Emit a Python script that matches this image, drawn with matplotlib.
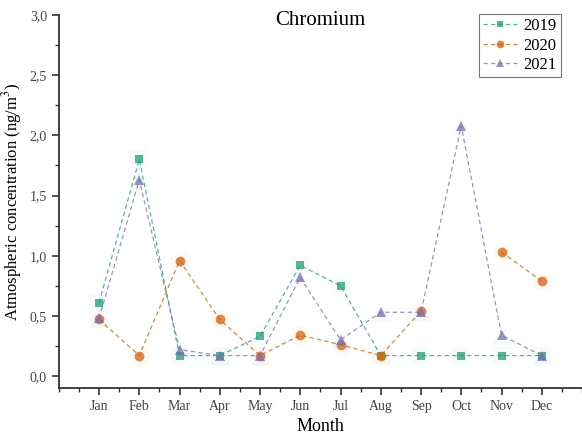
import numpy as np
import matplotlib.pyplot as plt
from matplotlib.ticker import MultipleLocator

# -----------------------------
# Data
# -----------------------------
months = ["Jan", "Feb", "Mar", "Apr", "May", "Jun",
          "Jul", "Aug", "Sep", "Oct", "Nov", "Dec"]
cr_2019 = [0.61, 1.80, 0.17, 0.17, 0.33, 0.92, 0.75, 0.17, 0.17, 0.17, 0.17, 0.17]
cr_2020 = [0.47, 0.17, 0.96, 0.47, 0.17, 0.34, 0.26, 0.17, 0.54, np.nan, 1.03, 0.79]
cr_2021 = [0.48, 1.63, 0.22, 0.17, 0.17, 0.82, 0.30, 0.53, 0.53, 2.08, 0.34, 0.17]

plt.rcParams['font.family'] = ['Liberation Serif', 'DejaVu Serif']
plt.rcParams['mathtext.fontset'] = 'stix'

fig = plt.figure(figsize=(5.82, 4.43), dpi=100)
ax = fig.add_axes([0.101, 0.124, 0.899, 0.842])

x = np.arange(1, len(months) + 1)
series = [
    ("2019", cr_2019, "#1b9e77", "s", 6),
    ("2020", cr_2020, "#d95f02", "o", 7),
    ("2021", cr_2021, "#7570b3", "^", 7),
]
for label, vals, col, mk, ms in series:
    # faint halo behind the markers
    ax.plot(x, vals, linestyle="none", marker=mk, markersize=ms + 7,
            color=col, alpha=0.03, markeredgewidth=0)
    ax.plot(x, vals, linestyle=(0, (3.5, 2.5)), linewidth=0.9, color=col,
            alpha=0.75, marker=mk, markersize=ms, markerfacecolor=col,
            markeredgewidth=0, label=label)

ax.set_xlim(0, 13)
ax.set_ylim(-0.1, 3.0)
ax.set_xticks(x)
ax.set_xticklabels(months)
ax.xaxis.set_minor_locator(MultipleLocator(0.5))
ax.yaxis.set_major_locator(MultipleLocator(0.5))
ax.yaxis.set_minor_locator(MultipleLocator(0.25))
ax.yaxis.set_major_formatter(plt.FuncFormatter(lambda v, p: f"{v:.1f}".replace(".", ",")))

ax.spines["top"].set_visible(False)
ax.spines["right"].set_visible(False)
for s in ["left", "bottom"]:
    ax.spines[s].set_linewidth(1.3)
    ax.spines[s].set_color("#333333")
ax.tick_params(which="major", direction="out", length=5, width=1.2,
               labelsize=10, colors="#333333", labelcolor="#444444")
ax.tick_params(which="minor", direction="out", length=3, width=1.0,
               colors="#333333")

ax.set_xlabel("Month", fontsize=13)
ax.set_ylabel("Atmospheric concentration (ng/m$^3$)", fontsize=12, labelpad=4)
ax.text(0.5, 1.012, "Chromium", transform=ax.transAxes, ha="center",
        va="top", fontsize=15)

leg = ax.legend(loc="upper right", bbox_to_anchor=(0.975, 1.025), fontsize=12,
                frameon=True, fancybox=False, handlelength=2.0,
                borderpad=0.25, labelspacing=0.2, handletextpad=0.4,
                markerscale=0.8)
leg.get_frame().set_edgecolor("#555555")
leg.get_frame().set_linewidth(0.8)

fig.savefig("out.png", dpi=100)
